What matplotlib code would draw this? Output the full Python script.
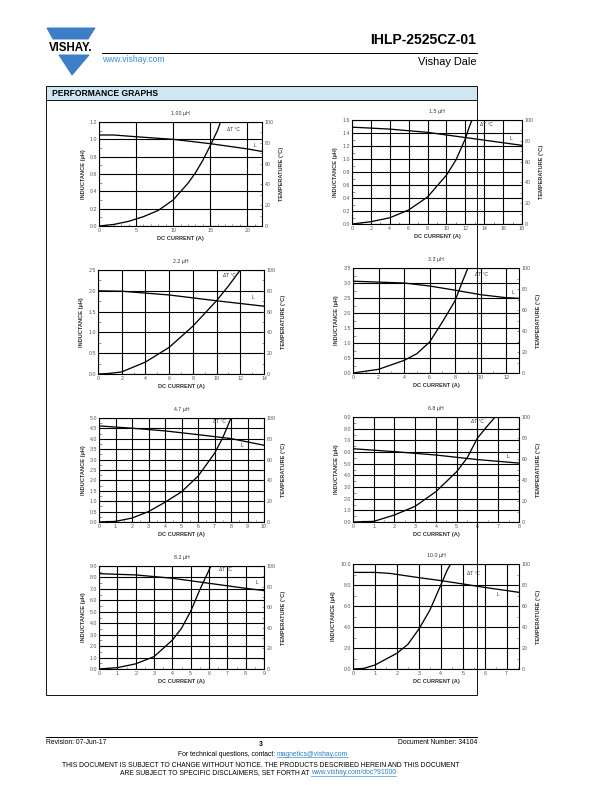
import matplotlib
matplotlib.use("Agg")
import matplotlib.pyplot as plt
from matplotlib.patches import Polygon, Rectangle
from matplotlib.lines import Line2D
from matplotlib.ticker import MultipleLocator, FormatStrFormatter
import numpy as np

plt.rcParams['font.family'] = ['Liberation Sans', 'DejaVu Sans']

# ---- data ----
titles = ["1.00 µH", "1.5 µH", "2.2 µH", "3.3 µH", "4.7 µH", "6.8 µH", "8.2 µH", "10.0 µH"]

# inductance vs DC current
ind_x1 = [0, 2, 5, 10, 15, 20, 22]
ind_y1 = [1.05, 1.05, 1.03, 1.0, 0.95, 0.89, 0.86]
ind_x2 = [0, 4, 8, 12, 15, 18]
ind_y2 = [1.49, 1.46, 1.41, 1.33, 1.27, 1.21]
ind_x3 = [0, 2, 6, 10, 14]
ind_y3 = [2.0, 1.99, 1.9, 1.76, 1.63]
ind_x4 = [0, 2, 4, 6, 8, 10, 12, 13]
ind_y4 = [3.06, 3.03, 3.0, 2.9, 2.76, 2.61, 2.51, 2.49]
ind_x5 = [0, 2, 4, 6, 8, 10]
ind_y5 = [4.62, 4.51, 4.38, 4.2, 4.01, 3.69]
ind_x6 = [0, 2, 4, 6, 8]
ind_y6 = [6.28, 6.03, 5.74, 5.35, 5.05]
ind_x7 = [0, 2, 4, 6, 8, 9]
ind_y7 = [8.33, 8.22, 7.93, 7.49, 7.05, 6.85]
ind_x8 = [0, 1, 1.7, 3, 4, 5, 6, 7.56]
ind_y8 = [9.2, 9.2, 9.1, 8.7, 8.42, 8.1, 7.77, 7.3]

# temperature rise vs DC current
dt_x1 = [0, 2, 4, 6, 8, 10, 12, 13, 14, 15, 16, 16.4]
dt_y1 = [0, 1.5, 4.5, 9, 15, 25, 41, 51, 63, 77, 92, 100]
dt_x2 = [0, 2, 4, 6, 8, 10, 11, 12, 12.4, 12.7]
dt_y2 = [0, 2.2, 6, 13.5, 26, 47, 61.5, 82, 93, 100]
dt_x3 = [0, 1, 2, 4, 6, 8, 10, 11, 12]
dt_y3 = [0, 0.6, 2, 11.5, 25.6, 46, 70.5, 84.6, 100]
dt_x4 = [0, 2, 4, 5, 6, 7, 8, 8.5, 9]
dt_y4 = [0, 3.5, 12, 18.4, 29.5, 48.6, 69, 85, 100]
dt_x5 = [0, 1, 2, 3, 4, 5, 6, 7, 7.5, 8]
dt_y5 = [0, 0.6, 3.8, 10, 19, 29, 44, 66, 81, 100]
dt_x6 = [0, 1, 2, 3, 4, 5, 5.5, 6, 6.5, 6.85]
dt_y6 = [0, 0.6, 6.7, 15, 29, 48, 61, 80, 92, 100]
dt_x7 = [0, 1, 2, 3, 4, 4.5, 5, 5.5, 6, 6.1]
dt_y7 = [0, 1.3, 5, 12, 28, 39.5, 56, 77, 96, 100]
dt_x8 = [0, 0.5, 1, 2, 2.5, 3, 3.5, 4, 4.3, 4.45]
dt_y8 = [0, 0.6, 3.8, 15, 23.5, 38, 56, 80, 94.6, 100]

ind_x = [ind_x1, ind_x2, ind_x3, ind_x4, ind_x5, ind_x6, ind_x7, ind_x8]
ind_y = [ind_y1, ind_y2, ind_y3, ind_y4, ind_y5, ind_y6, ind_y7, ind_y8]
dt_x = [dt_x1, dt_x2, dt_x3, dt_x4, dt_x5, dt_x6, dt_x7, dt_x8]
dt_y = [dt_y1, dt_y2, dt_y3, dt_y4, dt_y5, dt_y6, dt_y7, dt_y8]

# ---- layout (pixel boxes on the page) and axis settings ----
W, H = 612, 792
boxes = [(99, 122, 262, 226), (352, 120, 522, 224),
         (98, 270, 264, 374), (353, 268, 519, 373),
         (99, 418, 264, 522), (353, 417, 519, 522),
         (99, 566, 264, 669), (353, 564, 519, 669)]
# xmax, xmajor, xminor, ymax, ymajor, yminor
axcfg = [(22, 5, 1, 1.2, 0.2, 0.1), (18, 2, 1, 1.6, 0.2, 0.1),
         (14, 2, 1, 2.5, 0.5, 0.25), (13, 2, 1, 3.5, 0.5, 0.25),
         (10, 1, 0.5, 5.0, 0.5, 0.25), (8, 1, 0.5, 9.0, 1.0, 0.5),
         (9, 1, 0.5, 9.0, 1.0, 0.5), (7.56, 1, 0.5, 10.0, 2.0, 1.0)]
# label positions: dT (x, temp), L (x, inductance)
labpos = [((18.1, 93), (21.1, 0.93)), ((14.2, 96), (16.8, 1.32)),
          ((11.1, 95), (13.1, 1.83)), ((10.1, 94), (12.5, 2.68)),
          ((7.3, 97), (8.65, 3.69)), ((6.0, 96), (7.45, 5.6)),
          ((6.9, 97), (8.6, 7.55)), ((5.48, 91), (6.6, 7.07))]

fig = plt.figure(figsize=(W / 72, H / 72), dpi=72)


def fx(x):
    return x / W


def fy(y):
    return 1 - y / H


tick_col = '#555555'
lab_col = '#333333'

for i in range(8):
    x0, y0, x1, y1 = boxes[i]
    xmax, xmaj, xmin, ymax, ymaj, ymin = axcfg[i]
    ax = fig.add_axes([fx(x0), fy(y1), (x1 - x0) / W, (y1 - y0) / H])
    ax.set_xlim(0, xmax)
    ax.set_ylim(0, ymax)
    ax.xaxis.set_major_locator(MultipleLocator(xmaj))
    ax.xaxis.set_minor_locator(MultipleLocator(xmin))
    ax.yaxis.set_major_locator(MultipleLocator(ymaj))
    ax.yaxis.set_minor_locator(MultipleLocator(ymin))
    ax.yaxis.set_major_formatter(FormatStrFormatter('%.1f'))
    ax.xaxis.set_major_formatter(FormatStrFormatter('%g'))
    ax.grid(True, which='major', color='black', lw=1.1)
    ax.tick_params(which='both', direction='in', labelsize=5.3, colors=tick_col,
                   pad=2, width=0.6)
    ax.tick_params(which='major', length=0)
    ax.tick_params(which='minor', length=2.5)
    for s in ax.spines.values():
        s.set_linewidth(1.1)
    ax.plot(ind_x[i], ind_y[i], color='black', lw=1.3, zorder=5)
    ax.set_title(titles[i], fontsize=5.3, color=lab_col, pad=7)
    ax.set_xlabel("DC CURRENT (A)", fontsize=5.6, fontweight='bold', color=lab_col, labelpad=3)
    ax.set_ylabel("INDUCTANCE (µH)", fontsize=5.6, fontweight='bold', color=lab_col, labelpad=4)

    ax2 = ax.twinx()
    ax2.set_ylim(0, 100)
    ax2.yaxis.set_major_locator(MultipleLocator(20))
    ax2.yaxis.set_minor_locator(MultipleLocator(10))
    ax2.tick_params(which='both', direction='in', labelsize=5.3, colors=tick_col, pad=3,
                    width=0.6)
    ax2.tick_params(which='major', length=2.5)
    ax2.tick_params(which='minor', length=2.5)
    ax2.plot(dt_x[i], dt_y[i], color='black', lw=1.3, zorder=5)
    ax2.set_ylabel("TEMPERATURE (°C)", fontsize=5.6, fontweight='bold', color=lab_col,
                   labelpad=5)
    (tx, ty), (lx, ly) = labpos[i]
    ax2.text(tx, ty, "ΔT °C", fontsize=5, color=lab_col, ha='center', va='center', zorder=6)
    ax.text(lx, ly, "L", fontsize=5, color=lab_col, ha='center', va='center', zorder=6)

# ---- page header ----
blue = '#3d7fc6'
fig.patches.append(Polygon([(fx(47), fy(28)), (fx(95), fy(28)), (fx(88), fy(39)), (fx(53), fy(39))],
                           closed=True, transform=fig.transFigure, color=blue))
fig.patches.append(Polygon([(fx(59), fy(55)), (fx(89), fy(55)), (fx(72), fy(75))],
                           closed=True, transform=fig.transFigure, color=blue))
fig.text(fx(71), fy(48), "VISHAY.", fontsize=11.5, fontweight='bold', ha='center', va='center')
fig.add_artist(Line2D([fx(102), fx(477)], [fy(52.5), fy(52.5)], color='black', lw=1.0))
fig.text(fx(476), fy(40), "IHLP-2525CZ-01", fontsize=14, fontweight='bold', ha='right',
         va='center')
fig.text(fx(102), fy(59), "www.vishay.com", fontsize=8.5, color='#3a8fd0', ha='left', va='center')
fig.text(fx(476), fy(62), "Vishay Dale", fontsize=11, ha='right', va='center')

# performance graphs frame
fig.patches.append(Rectangle((fx(46), fy(100)), (477 - 46) / W, 14 / H, transform=fig.transFigure,
                             facecolor='#cfe6f3', edgecolor='none'))
fig.patches.append(Rectangle((fx(46), fy(695)), (477 - 46) / W, (695 - 86) / H,
                             transform=fig.transFigure, facecolor='none', edgecolor='black', lw=0.9))
fig.add_artist(Line2D([fx(46), fx(477)], [fy(100), fy(100)], color='black', lw=0.9))
fig.text(fx(52), fy(93), "PERFORMANCE GRAPHS", fontsize=8.5, fontweight='bold', ha='left',
         va='center')

# ---- footer ----
fs = 6.7
fig.add_artist(Line2D([fx(46), fx(477)], [fy(737), fy(737)], color='black', lw=1.0))
fig.text(fx(46), fy(743), "Revision: 07-Jun-17", fontsize=fs, ha='left', va='center')
fig.text(fx(261), fy(744), "3", fontsize=fs, fontweight='bold', ha='center', va='center')
fig.text(fx(477), fy(743), "Document Number: 34104", fontsize=fs, ha='right', va='center')
fig.text(fx(277), fy(754), "For technical questions, contact: ", fontsize=fs, ha='right', va='center')
l1 = fig.text(fx(277), fy(754), "magnetics@vishay.com", fontsize=fs, color='#2a7fc8', ha='left',
              va='center')
fig.text(fx(261), fy(765.5), "THIS DOCUMENT IS SUBJECT TO CHANGE WITHOUT NOTICE. THE PRODUCTS DESCRIBED HEREIN AND THIS DOCUMENT",
         fontsize=fs, ha='center', va='center')
fig.text(fx(311), fy(772.5), "ARE SUBJECT TO SPECIFIC DISCLAIMERS, SET FORTH AT ", fontsize=fs,
         ha='right', va='center')
l2 = fig.text(fx(311), fy(772.5), "www.vishay.com/doc?91000", fontsize=fs, color='#2a7fc8', ha='left',
              va='center')

fig.canvas.draw()
r = fig.canvas.get_renderer()
for t in (l1, l2):
    bb = t.get_window_extent(r).transformed(fig.transFigure.inverted())
    fig.add_artist(Line2D([bb.x0, bb.x1], [bb.y0 + 0.0005, bb.y0 + 0.0005], color='#2a7fc8', lw=0.6))

fig.savefig("out.png", dpi=72)
